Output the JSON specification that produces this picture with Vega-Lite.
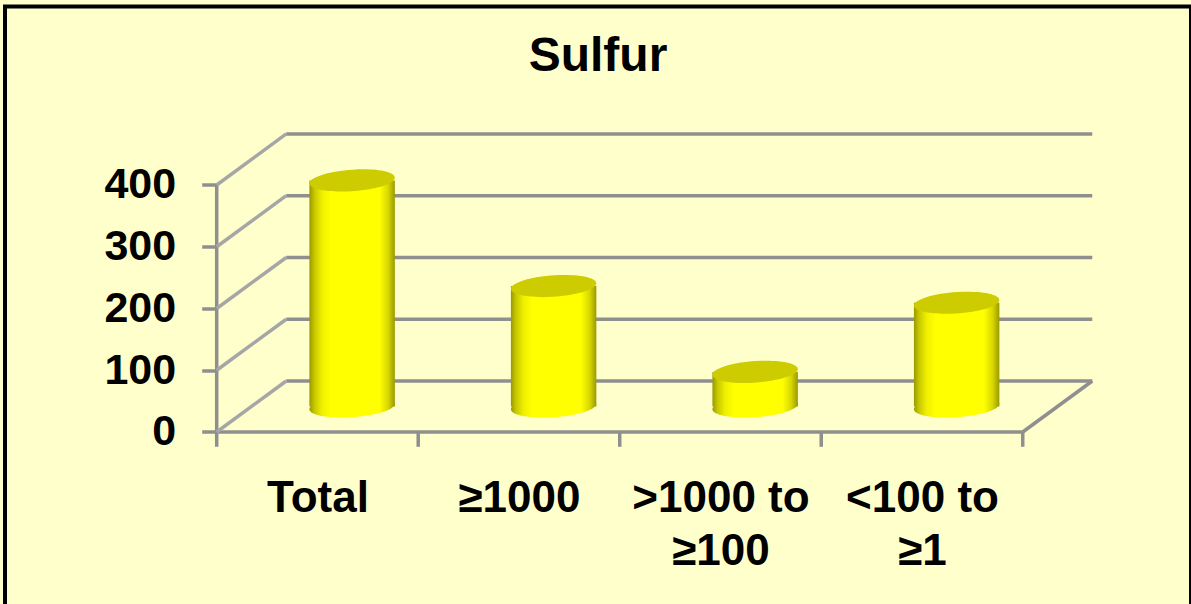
{
"$schema":"https://vega.github.io/schema/vega-lite/v6.json",
"width":1186,"height":600,
"autosize":"none",
"padding":{"left":5,"top":6.5,"right":0,"bottom":0},
"background":"#FFFFCC",
"view":{"stroke":"#000000","strokeWidth":4,"fill":"#FFFFCC"},
"title":{"text":"Sulfur","font":"Liberation Sans","fontWeight":"bold","fontSize":48,"color":"#000000","anchor":"middle","baseline":"alphabetic","offset":-112},
"datasets":{
"bars":[
{"category":"Total","i":0,"value":366},
{"category":"≥1000","i":1,"value":195},
{"category":">1000 to ≥100","i":2,"value":56},
{"category":"<100 to ≥1","i":3,"value":168}],
"frame":[
{"x":0,"x2":0,"y":0,"y2":400},
{"x":0,"x2":4,"y":0,"y2":0},
{"x":4,"x2":4.345,"y":0,"y2":82.6},
{"x":0.345,"x2":4.345,"y":82.6,"y2":82.6},
{"x":0.345,"x2":4.345,"y":182.6,"y2":182.6},
{"x":0.345,"x2":4.345,"y":282.6,"y2":282.6},
{"x":0.345,"x2":4.345,"y":382.6,"y2":382.6},
{"x":0.345,"x2":4.345,"y":482.6,"y2":482.6},
{"x":0,"x2":0,"y":0,"y2":-24},
{"x":1,"x2":1,"y":0,"y2":-24},
{"x":2,"x2":2,"y":0,"y2":-24},
{"x":3,"x2":3,"y":0,"y2":-24},
{"x":4,"x2":4,"y":0,"y2":-24}],
"side":[
{"x":0,"x2":0.345,"y":0,"y2":82.6},
{"x":0,"x2":0.345,"y":100,"y2":182.6},
{"x":0,"x2":0.345,"y":200,"y2":282.6},
{"x":0,"x2":0.345,"y":300,"y2":382.6},
{"x":0,"x2":0.345,"y":400,"y2":482.6}]
},
"data":{"name":"bars"},
"encoding":{
"x":{"type":"quantitative"},
"y":{"type":"quantitative"}
},
"layer":[
{"data":{"name":"frame"},
"mark":{"type":"rule","color":"#8f8f8f","strokeWidth":3.5,"clip":false},
"encoding":{
"x":{"field":"x","type":"quantitative","scale":{"domain":[-1.0506,4.835],"nice":false,"zero":false},
"axis":{"title":null,"grid":false,"domain":false,"ticks":false,"orient":"bottom","offset":-174.5,"values":[0.5,1.5,2.5,3.5],
"labelFont":"Liberation Sans","labelFontWeight":"bold","labelFontSize":44,"labelColor":"#000000","labelPadding":44,"labelFlush":false,"labelOverlap":false,"labelLineHeight":53,
"labelExpr":"datum.value==0.5?'Total':datum.value==1.5?'≥1000':datum.value==2.5?['>1000 to','≥100']:['<100 to','≥1']"}},
"x2":{"field":"x2"},
"y":{"field":"y","type":"quantitative","scale":{"domain":[-282.6,689],"nice":false,"zero":false},
"axis":{"title":null,"grid":false,"domain":false,"orient":"left","offset":-211.7,"values":[0,100,200,300,400],"tickSize":15,"tickWidth":3.5,"tickColor":"#8f8f8f",
"labelFont":"Liberation Sans","labelFontWeight":"bold","labelFontSize":43,"labelColor":"#000000","labelPadding":26}},
"y2":{"field":"y2"}}},
{"data":{"name":"side"},
"mark":{"type":"rule","color":"#a6a6a6","strokeWidth":3.5},
"encoding":{"x":{"field":"x","type":"quantitative"},"x2":{"field":"x2"},"y":{"field":"y","type":"quantitative"},"y2":{"field":"y2"}}},
{"transform":[{"calculate":"datum.i+0.5+0.172","as":"cx"},{"calculate":"datum.cx-0.212","as":"left"},{"calculate":"datum.cx+0.212","as":"right"},{"calculate":"datum.value+41.3","as":"top"}],
"layer":[
{"mark":{"type":"point","filled":true,"opacity":1,"size":7293,"shape":"M-1,0.06 A1,0.25 -4 1 0 1,-0.06 A1,0.25 -4 1 0 -1,0.06 Z",
"fill":{"gradient":"linear","x1":0,"x2":1,"y1":0,"y2":0,"stops":[{"offset":0,"color":"#999900"},{"offset":0.06,"color":"#c8c800"},{"offset":0.15,"color":"#f0f000"},{"offset":0.25,"color":"#ffff00"},{"offset":0.82,"color":"#ffff00"},{"offset":0.92,"color":"#d8d800"},{"offset":1,"color":"#999900"}]},"strokeWidth":0},
"encoding":{"x":{"field":"cx","type":"quantitative"},"y":{"datum":41.3,"type":"quantitative"}}},
{"mark":{"type":"rect",
"fill":{"gradient":"linear","x1":0,"x2":1,"y1":0,"y2":0,"stops":[{"offset":0,"color":"#999900"},{"offset":0.06,"color":"#c8c800"},{"offset":0.15,"color":"#f0f000"},{"offset":0.25,"color":"#ffff00"},{"offset":0.82,"color":"#ffff00"},{"offset":0.92,"color":"#d8d800"},{"offset":1,"color":"#999900"}]}},
"encoding":{"x":{"field":"left","type":"quantitative"},"x2":{"field":"right"},"y":{"field":"top","type":"quantitative"},"y2":{"datum":41.3}}},
{"mark":{"type":"point","filled":true,"opacity":1,"size":7293,"color":"#cccc00","strokeWidth":0,"shape":"M-1,0.06 A1,0.25 -4 1 0 1,-0.06 A1,0.25 -4 1 0 -1,0.06 Z"},
"encoding":{"x":{"field":"cx","type":"quantitative"},"y":{"field":"top","type":"quantitative"}}}
]}
]
}
